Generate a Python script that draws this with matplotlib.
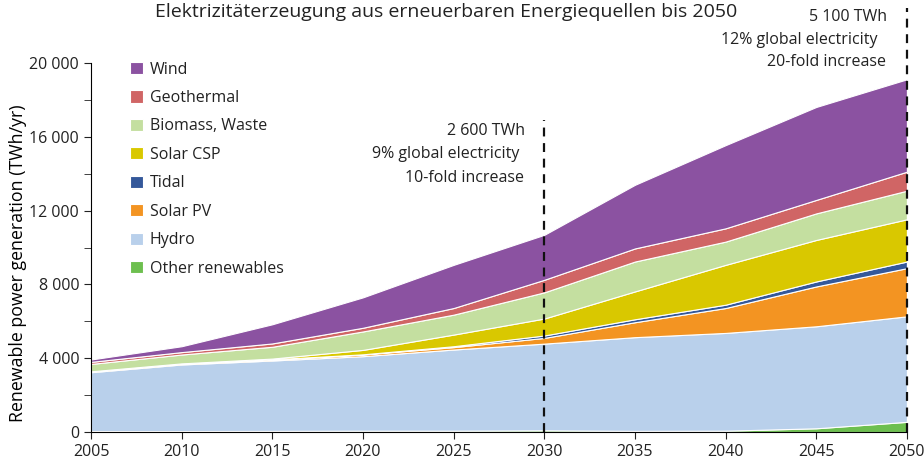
import matplotlib.pyplot as plt
from matplotlib.ticker import FuncFormatter, MultipleLocator

# --- Data (TWh/yr) ---
years = [2005, 2010, 2015, 2020, 2025, 2030, 2035, 2040, 2045, 2050]
other = [50, 50, 60, 70, 70, 90, 60, 70, 200, 550]
hydro = [3190, 3610, 3815, 4040, 4400, 4700, 5080, 5300, 5530, 5720]
solar_pv = [40, 50, 55, 90, 130, 310, 810, 1350, 2160, 2610]
tidal = [10, 5, 10, 10, 50, 130, 160, 180, 270, 360]
solar_csp = [0, 5, 40, 240, 630, 920, 1510, 2160, 2250, 2290]
biomass = [400, 480, 640, 1000, 1080, 1420, 1620, 1260, 1440, 1550]
geothermal = [110, 130, 180, 200, 360, 680, 710, 720, 730, 1030]
wind = [130, 320, 1040, 1650, 2340, 2440, 3450, 4510, 5040, 5010]

labels = ["Other renewables", "Hydro", "Solar PV", "Tidal", "Solar CSP",
          "Biomass, Waste", "Geothermal", "Wind"]
colors = ["#6dbf4f", "#b9d0eb", "#f39422", "#34589a", "#d9c800",
          "#c4dfa0", "#d06565", "#8b52a1"]

# --- Milestones marked with dashed lines ---
mark_years = [2030, 2050]
mark_tops = [16900, 23000]
mark_texts = [["2 600 TWh", "9% global electricity", "10-fold increase"],
              ["5 100 TWh", "12% global electricity", "20-fold increase"]]
text_x = [[2028.93, 2028.6, 2028.88], [2048.9, 2048.4, 2048.82]]
text_y = [[16300, 15060, 13760], [22490, 21250, 20040]]


def thousands(value, pos):
    return f"{int(value):,}".replace(",", " ")


def main():
    plt.rcParams['font.family'] = ['Open Sans', 'DejaVu Sans']
    plt.rcParams['text.color'] = "#222222"
    plt.rcParams['xtick.color'] = "#222222"
    plt.rcParams['ytick.color'] = "#222222"

    # --- Stacked area plot ---
    plt.figure(figsize=(9.24, 4.73), dpi=100)
    ax = plt.axes([0.0985, 0.0867, 0.883, 0.78])
    handles = plt.stackplot(years, other, hydro, solar_pv, tidal, solar_csp,
                            biomass, geothermal, wind, labels=labels, colors=colors,
                            edgecolor="white", linewidth=0.8)

    for x, top, lines, xs, ys in zip(mark_years, mark_tops, mark_texts, text_x, text_y):
        plt.plot([x, x], [0, top], color="#111111", linestyle=(0, (4, 3)),
                 linewidth=1.6, clip_on=False, zorder=5)
        for line, tx, ty in zip(lines, xs, ys):
            plt.text(tx, ty, line, ha="right", va="center", fontsize=11.5)

    plt.xlim(2005, 2050)
    plt.ylim(0, 20000)
    plt.xticks(range(2005, 2051, 5), fontsize=11.5)
    plt.yticks(range(0, 20001, 4000), fontsize=11.5)
    ax.yaxis.set_major_formatter(FuncFormatter(thousands))
    ax.yaxis.set_minor_locator(MultipleLocator(2000))  # unlabelled ticks in between
    ax.spines['top'].set_visible(False)
    ax.spines['right'].set_visible(False)
    ax.tick_params(which="both", length=5, color="#222222")
    plt.ylabel("Renewable power generation (TWh/yr)", fontsize=12.8, labelpad=-2)
    ax.yaxis.set_label_coords(-0.079, 0.458)

    plt.legend(handles[::-1], labels[::-1], loc="upper left",
               bbox_to_anchor=(0.03, 1.043), frameon=False, fontsize=11.5,
               handlelength=0.8, handleheight=0.8, handletextpad=0.45,
               labelspacing=0.78)

    plt.figtext(0.483, 0.975, "Elektrizitäterzeugung aus erneuerbaren Energiequellen bis 2050",
                ha="center", va="center", fontsize=14)

    plt.savefig("out.png", dpi=100)


if __name__ == "__main__":
    main()
